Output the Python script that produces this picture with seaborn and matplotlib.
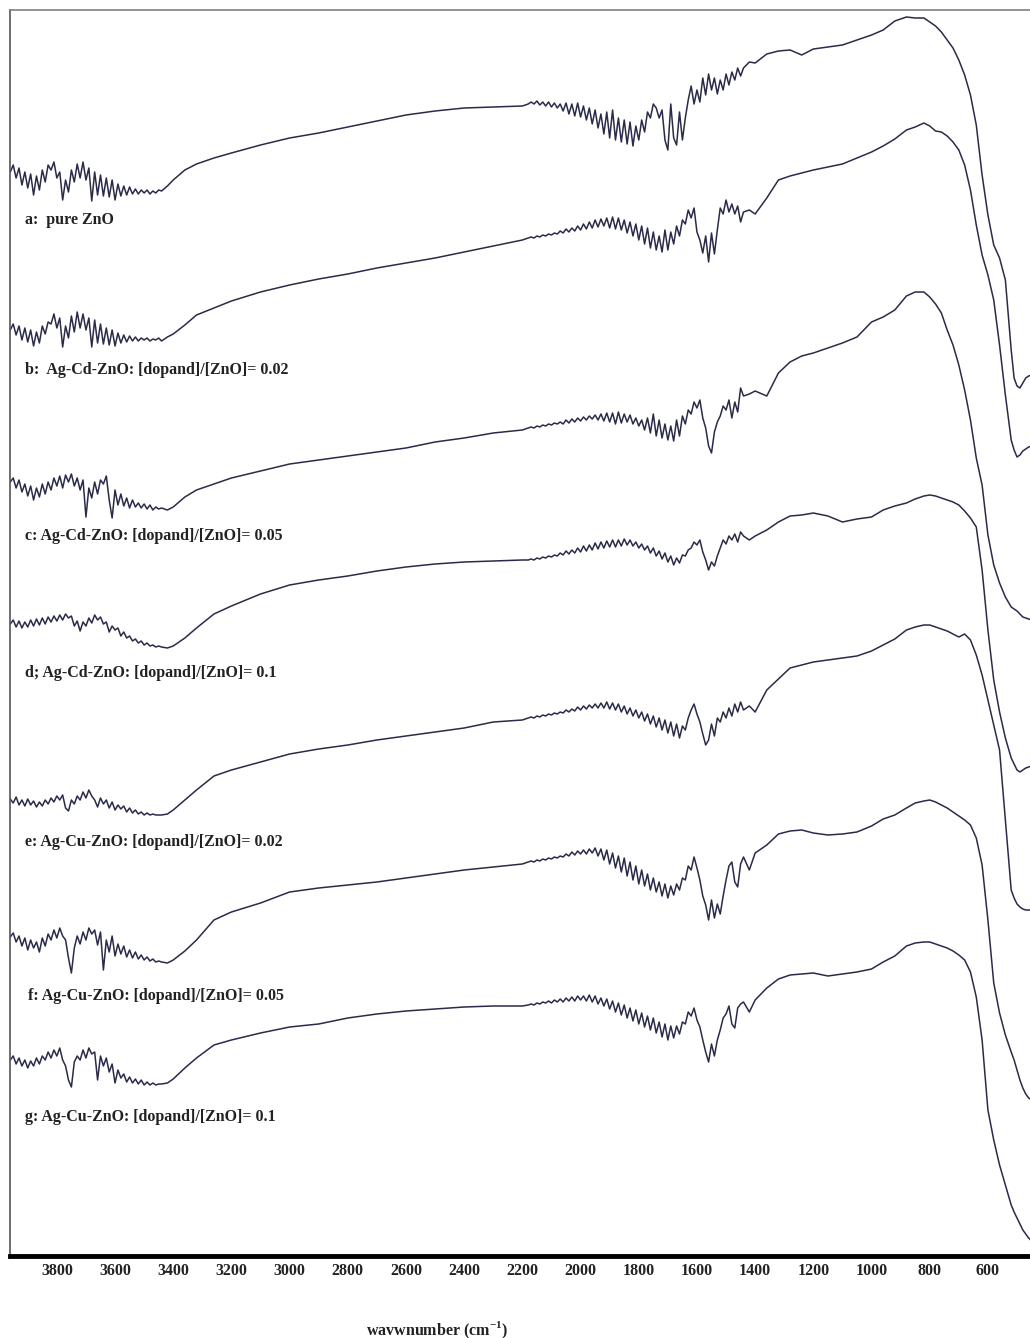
import matplotlib
matplotlib.use("Agg")
import matplotlib.pyplot as plt
import pandas as pd
import seaborn as sns

# Shared wavenumber grid (cm-1), high to low like the instrument output.
# Finer steps where the spectra are noisy (O-H and 2100-1450 regions).
wavenumber = (list(range(3960, 3439, -10))
              + [3420, 3400, 3360, 3320, 3260, 3200, 3100, 3000, 2900, 2800,
                 2700, 2600, 2500, 2400, 2300, 2200]
              + list(range(2180, 1439, -10))
              + [1420, 1400, 1360, 1320, 1280, 1240, 1200, 1150, 1100, 1050,
                 1000, 960, 920, 880, 850, 820, 800, 780, 760, 740, 720, 700,
                 680, 660, 640, 620, 600, 580, 560, 540, 520, 510, 500, 490,
                 480, 470, 460, 450])

# Stacked absorbance (a.u.); larger = further down the page
pure_zno = [172, 165, 178, 168, 185, 172, 188, 174, 195, 176, 190, 170, 182, 165, 170, 162, 178, 172, 200, 180,
            192, 170, 182, 164, 178, 162, 180, 168, 201, 172, 195, 175, 196, 178, 197, 180, 200, 184, 196, 186,
            195, 187, 194, 189, 194, 190, 193, 190, 194, 191, 193, 190, 191,
            186, 180, 170, 164, 158, 153, 145, 138, 133, 127, 121, 115, 111, 108, 107, 106,
            104, 102, 104, 101, 105, 102, 106, 102, 107, 103, 108, 104, 111, 103, 114, 104, 116, 103, 117, 106,
            120, 108, 124, 110, 128, 114, 134, 112, 138, 110, 140, 118, 142, 120, 144, 122, 146, 126, 140, 120,
            132, 112, 118, 104, 108, 118, 110, 140, 150, 104, 138, 145, 112, 140, 118, 100, 86, 104, 90, 102,
            78, 95, 74, 90, 78, 94, 80, 90, 74, 85, 72, 80, 68, 76, 68,
            62, 63, 54, 51, 50, 55, 49, 47, 45, 40, 35, 30, 21, 17, 18, 18, 22, 26, 32, 40,
            48, 60, 75, 95, 125, 175, 215, 245, 258, 280, 350, 378, 386, 388, 383, 378, 376, 375]
agcd_002 = [330, 324, 335, 326, 340, 328, 342, 330, 346, 332, 343, 326, 334, 322, 324, 314, 328, 318, 347, 326,
            338, 316, 332, 312, 328, 314, 330, 318, 347, 320, 343, 324, 344, 328, 345, 330, 346, 333, 343, 335,
            342, 336, 341, 337, 341, 338, 340, 338, 341, 339, 340, 338, 341,
            337, 334, 325, 315, 308, 301, 292, 285, 279, 274, 268, 263, 258, 252, 246, 240,
            238, 237, 238, 236, 237, 235, 236, 234, 235, 233, 234, 231, 233, 229, 232, 228, 231, 226, 230, 224,
            229, 222, 228, 220, 227, 219, 226, 218, 228, 217, 229, 218, 230, 220, 233, 222, 236, 224, 240, 226,
            244, 228, 248, 232, 250, 236, 252, 230, 250, 232, 244, 226, 236, 220, 224, 210, 218, 208, 232, 240,
            253, 236, 262, 233, 254, 230, 208, 214, 200, 212, 204, 214, 206, 222, 212,
            210, 214, 198, 180, 176, 173, 170, 167, 164, 158, 152, 146, 139, 130, 127, 123, 126, 131, 132, 136,
            142, 150, 165, 190, 225, 255, 275, 300, 345, 395, 440, 450, 457, 455, 451, 449, 447, 446]
agcd_005 = [482, 478, 488, 480, 492, 484, 496, 486, 500, 488, 497, 484, 494, 482, 490, 478, 486, 476, 488, 475,
            482, 474, 486, 478, 490, 480, 517, 488, 498, 482, 494, 480, 484, 476, 500, 518, 490, 505, 494, 506,
            498, 508, 500, 507, 503, 508, 504, 509, 505, 510, 507, 509, 508,
            510, 507, 497, 490, 484, 478, 471, 464, 460, 456, 452, 448, 442, 438, 433, 430,
            428, 427, 428, 426, 427, 425, 426, 424, 425, 423, 424, 422, 424, 420, 423, 419, 422, 418, 421, 417,
            420, 416, 419, 415, 420, 414, 421, 413, 422, 413, 424, 412, 423, 414, 422, 415, 424, 418, 426, 420,
            430, 418, 433, 414, 436, 420, 438, 424, 440, 426, 441, 420, 436, 416, 424, 410, 414, 402, 408, 400,
            418, 428, 446, 453, 432, 422, 416, 406, 410, 400, 418, 402, 412, 388, 396,
            394, 391, 396, 373, 362, 356, 353, 348, 343, 337, 322, 317, 310, 296, 292, 292, 297, 304, 313, 330,
            345, 365, 390, 420, 458, 485, 535, 565, 583, 597, 607, 609, 611, 614, 617, 618, 619, 620]
agcd_01 = [624, 620, 627, 621, 628, 622, 627, 620, 626, 619, 625, 618, 624, 617, 622, 616, 621, 615, 620, 614,
           618, 616, 626, 621, 631, 622, 626, 618, 623, 615, 620, 617, 624, 622, 632, 626, 630, 628, 636, 632,
           638, 636, 641, 639, 643, 641, 645, 643, 646, 645, 647, 646, 647,
           648, 646, 638, 628, 614, 606, 594, 585, 580, 576, 571, 567, 564, 562, 561, 560,
           560, 559, 560, 558, 559, 557, 558, 556, 557, 555, 556, 553, 555, 551, 554, 550, 553, 548, 552, 546,
           551, 545, 550, 543, 549, 542, 548, 541, 547, 540, 547, 540, 546, 539, 545, 540, 546, 542, 548, 544,
           550, 546, 553, 548, 556, 551, 559, 553, 562, 556, 565, 558, 563, 555, 556, 550, 548, 542, 545, 540,
           552, 560, 570, 562, 566, 556, 548, 540, 544, 536, 540, 534, 542, 532, 536,
           540, 536, 530, 522, 516, 515, 513, 516, 522, 519, 517, 510, 506, 503, 499, 496, 495, 496, 498, 500,
           502, 505, 511, 518, 527, 570, 630, 680, 712, 738, 758, 764, 770, 772, 770, 768, 767, 766]
agcu_002 = [799, 803, 797, 805, 800, 806, 799, 805, 801, 807, 802, 806, 800, 804, 798, 802, 796, 800, 795, 808,
            811, 800, 804, 796, 800, 792, 798, 790, 796, 800, 807, 798, 804, 800, 808, 802, 810, 805, 809, 806,
            812, 808, 813, 810, 814, 812, 815, 813, 815, 814, 815, 815, 815,
            814, 810, 800, 790, 776, 770, 762, 754, 749, 745, 740, 736, 732, 728, 722, 720,
            718, 717, 718, 716, 717, 715, 716, 714, 715, 713, 714, 712, 713, 710, 712, 709, 711, 707, 710, 706,
            709, 705, 708, 704, 708, 703, 708, 702, 709, 703, 710, 704, 712, 706, 714, 708, 716, 710, 718, 712,
            721, 714, 724, 716, 727, 718, 730, 720, 733, 722, 736, 724, 738, 726, 730, 718, 710, 704, 714, 722,
            734, 745, 740, 724, 736, 718, 722, 712, 718, 708, 716, 704, 712, 702, 710,
            706, 712, 690, 679, 668, 665, 662, 660, 658, 656, 651, 645, 639, 630, 627, 625, 625, 627, 629, 631,
            634, 637, 634, 640, 655, 675, 700, 725, 750, 820, 890, 898, 904, 907, 909, 910, 910, 910]
agcu_005 = [937, 933, 942, 936, 946, 938, 950, 940, 948, 942, 952, 938, 946, 934, 940, 930, 938, 928, 936, 940,
            958, 973, 948, 936, 944, 932, 940, 928, 934, 930, 945, 932, 970, 940, 952, 936, 956, 944, 954, 946,
            957, 950, 958, 952, 959, 955, 960, 957, 961, 959, 962, 961, 962,
            963, 960, 951, 940, 920, 912, 903, 892, 888, 885, 882, 878, 874, 870, 867, 864,
            862, 861, 862, 860, 861, 859, 860, 858, 859, 857, 858, 856, 857, 854, 856, 852, 855, 851, 854, 850,
            854, 849, 853, 848, 856, 849, 860, 850, 864, 853, 868, 856, 872, 858, 876, 862, 880, 866, 884, 870,
            886, 874, 890, 878, 892, 882, 896, 884, 898, 886, 895, 884, 890, 878, 880, 866, 870, 857, 868, 880,
            896, 905, 920, 900, 918, 904, 914, 896, 880, 866, 862, 882, 887, 864, 857,
            870, 853, 845, 834, 831, 830, 833, 835, 834, 832, 826, 819, 815, 808, 803, 801, 800, 802, 805, 808,
            812, 816, 820, 825, 838, 865, 920, 983, 1013, 1035, 1052, 1060, 1070, 1080, 1088, 1094, 1098, 1100]
agcu_01 = [1060, 1056, 1064, 1058, 1066, 1060, 1068, 1061, 1066, 1058, 1064, 1056, 1060, 1052, 1058, 1050, 1056, 1048, 1060, 1066,
           1080, 1087, 1062, 1056, 1060, 1050, 1058, 1048, 1054, 1052, 1080, 1056, 1066, 1058, 1072, 1064, 1083, 1070, 1078, 1074,
           1082, 1077, 1083, 1079, 1084, 1080, 1085, 1082, 1085, 1083, 1085, 1084, 1084,
           1083, 1079, 1068, 1058, 1045, 1040, 1033, 1027, 1024, 1018, 1014, 1011, 1009, 1007, 1006, 1006,
           1005, 1004, 1005, 1003, 1004, 1002, 1003, 1001, 1003, 1000, 1002, 999, 1002, 998, 1001, 997, 1001, 996, 1000, 996,
           1001, 995, 1002, 996, 1004, 998, 1006, 999, 1009, 1001, 1012, 1003, 1015, 1005, 1018, 1008, 1021, 1010, 1024, 1013,
           1027, 1016, 1030, 1018, 1033, 1022, 1037, 1024, 1040, 1026, 1038, 1026, 1034, 1022, 1024, 1012, 1016, 1008, 1020, 1027,
           1040, 1052, 1062, 1044, 1056, 1040, 1030, 1018, 1014, 1006, 1024, 1028, 1008, 1004, 1002,
           1012, 1000, 988, 979, 975, 974, 973, 976, 974, 972, 969, 962, 956, 946, 943, 942, 942, 944, 946, 948,
           951, 955, 960, 972, 997, 1040, 1110, 1140, 1165, 1185, 1205, 1212, 1218, 1224, 1230, 1234, 1238, 1241]

sample_labels = ["a:  pure ZnO",
                 "b:  Ag-Cd-ZnO: [dopand]/[ZnO]= 0.02",
                 "c: Ag-Cd-ZnO: [dopand]/[ZnO]= 0.05",
                 "d; Ag-Cd-ZnO: [dopand]/[ZnO]= 0.1",
                 "e: Ag-Cu-ZnO: [dopand]/[ZnO]= 0.02",
                 "f: Ag-Cu-ZnO: [dopand]/[ZnO]= 0.05",
                 "g: Ag-Cu-ZnO: [dopand]/[ZnO]= 0.1"]
spectra = [pure_zno, agcd_002, agcd_005, agcd_01, agcu_002, agcu_005, agcu_01]
tick_values = [3800, 3600, 3400, 3200, 3000, 2800, 2600, 2400, 2200, 2000,
               1800, 1600, 1400, 1200, 1000, 800, 600]

# label anchors (wavenumber, stacked value) just under each trace
label_x = [3909, 3909, 3909, 3909, 3909, 3899, 3909]
label_y = [220, 370, 536, 673, 842, 996, 1117]

frames = []
for name, vals in zip(sample_labels, spectra):
    frames.append(pd.DataFrame({"wavenumber": wavenumber, "absorbance": vals, "sample": name}))
df = pd.concat(frames, ignore_index=True)

sns.set_theme(style="white")
plt.rcParams["font.family"] = ["Liberation Serif", "DejaVu Serif"]
plt.rcParams["mathtext.fontset"] = "custom"
plt.rcParams["mathtext.rm"] = "Liberation Serif"
plt.rcParams["mathtext.bf"] = "Liberation Serif:bold"

fig = plt.figure(figsize=(10.30, 13.38), dpi=100)
ax = fig.add_axes([10 / 1030, 82 / 1338, 1.0, 1246 / 1338])

sns.lineplot(data=df, x="wavenumber", y="absorbance", units="sample",
             estimator=None, sort=False, color="#2a2b48", linewidth=1.1,
             legend=False, ax=ax)

ax.set_xlim(3961, 421)
ax.set_ylim(1256, 10)
ax.set_xticks(tick_values)
ax.set_xticklabels([str(t) for t in tick_values], fontweight="bold")
ax.tick_params(axis="x", length=0, pad=5, labelsize=11.5, colors="#222222")
ax.set_yticks([])
ax.set_xlabel("")
ax.set_ylabel("")

ax.spines["top"].set_color("#808080")
ax.spines["top"].set_linewidth(1.2)
ax.spines["left"].set_color("#555555")
ax.spines["left"].set_linewidth(1.2)
ax.spines["bottom"].set_color("black")
ax.spines["bottom"].set_linewidth(3.5)
ax.spines["right"].set_visible(False)

for lx, ly, txt in zip(label_x, label_y, sample_labels):
    ax.text(lx, ly, txt, ha="left", va="center", fontsize=11.5,
            fontweight="bold", color="#222222")

fig.text(437 / 1030, 8 / 1338, r"wavwnumber (cm$^{\mathbf{-1}}$)",
         ha="center", va="center", fontsize=11.5, fontweight="bold",
         color="#222222")

fig.savefig("out.png", dpi=100)
